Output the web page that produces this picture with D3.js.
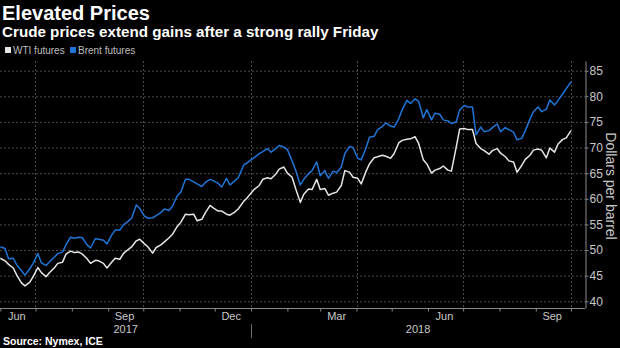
<!DOCTYPE html>
<html>
<head>
<meta charset="utf-8">
<script src="https://cdn.jsdelivr.net/npm/d3@7"></script>
<style>
  html, body { margin: 0; padding: 0; background: #000; }
  svg { display: block; font-family: "Liberation Sans", Arial, sans-serif; }
</style>
</head>
<body>
<div id="chart"></div>
<script>
// Trading days sampled twice a week (Mon / Thu)
var dates = [
	'2017-06-01','2017-06-05','2017-06-08','2017-06-12','2017-06-15','2017-06-19','2017-06-22','2017-06-26','2017-06-29',
	'2017-07-03','2017-07-06','2017-07-10','2017-07-13','2017-07-17','2017-07-20','2017-07-24','2017-07-27','2017-07-31',
	'2017-08-03','2017-08-07','2017-08-10','2017-08-14','2017-08-17','2017-08-21','2017-08-24','2017-08-28','2017-08-31',
	'2017-09-04','2017-09-07','2017-09-11','2017-09-14','2017-09-18','2017-09-21','2017-09-25','2017-09-28',
	'2017-10-02','2017-10-05','2017-10-09','2017-10-12','2017-10-16','2017-10-19','2017-10-23','2017-10-26','2017-10-30',
	'2017-11-02','2017-11-06','2017-11-09','2017-11-13','2017-11-16','2017-11-20','2017-11-23','2017-11-27','2017-11-30',
	'2017-12-04','2017-12-07','2017-12-11','2017-12-14','2017-12-18','2017-12-21','2017-12-26','2017-12-28',
	'2018-01-02','2018-01-04','2018-01-08','2018-01-11','2018-01-15','2018-01-18','2018-01-22','2018-01-25','2018-01-29',
	'2018-02-01','2018-02-05','2018-02-08','2018-02-12','2018-02-15','2018-02-19','2018-02-22','2018-02-26',
	'2018-03-01','2018-03-05','2018-03-08','2018-03-12','2018-03-15','2018-03-19','2018-03-22','2018-03-26','2018-03-29',
	'2018-04-02','2018-04-05','2018-04-09','2018-04-12','2018-04-16','2018-04-19','2018-04-23','2018-04-26','2018-04-30',
	'2018-05-03','2018-05-07','2018-05-10','2018-05-14','2018-05-17','2018-05-21','2018-05-24','2018-05-28','2018-05-31',
	'2018-06-04','2018-06-07','2018-06-11','2018-06-14','2018-06-18','2018-06-21','2018-06-25','2018-06-28',
	'2018-07-02','2018-07-05','2018-07-09','2018-07-12','2018-07-16','2018-07-19','2018-07-23','2018-07-26','2018-07-30',
	'2018-08-02','2018-08-06','2018-08-09','2018-08-13','2018-08-16','2018-08-20','2018-08-23','2018-08-27','2018-08-30',
	'2018-09-03','2018-09-06','2018-09-10','2018-09-13','2018-09-17','2018-09-20','2018-09-24','2018-09-27','2018-10-01'
];

var wti = [
	48.4, 47.9, 47.2, 46.5, 45.1, 43.6, 43.0, 43.7, 44.8,
	46.6, 45.6, 44.8, 45.6, 46.5, 47.4, 47.6, 49.2, 49.8,
	49.5, 49.6, 49.2, 48.3, 47.4, 48.0, 47.9, 47.4, 46.5,
	47.6, 48.4, 48.2, 49.3, 50.1, 50.6, 51.8, 52.1,
	51.2, 50.6, 49.4, 50.5, 51.0, 51.6, 52.4, 53.1, 54.6,
	55.4, 57.0, 56.9, 57.0, 55.7, 56.0, 57.3, 58.7, 58.2,
	57.6, 57.6, 57.0, 56.8, 57.4, 58.0, 59.6, 60.0,
	61.4, 61.9, 62.6, 63.8, 64.1, 63.9, 64.8, 65.8, 66.2,
	65.0, 64.2, 62.0, 59.3, 60.9, 61.9, 61.8, 63.8,
	61.8, 62.0, 60.7, 61.1, 61.3, 62.6, 65.5, 65.2, 64.2,
	64.0, 62.9, 65.3, 66.8, 68.0, 68.2, 68.5, 68.3, 67.9,
	68.8, 70.9, 71.4, 71.6, 71.7, 72.1, 70.8, 67.6, 66.8,
	65.0, 65.6, 65.9, 66.4, 65.6, 65.4, 70.0, 73.6,
	73.7, 73.5, 73.5, 70.8, 69.8, 69.4, 68.7, 69.4, 69.8,
	68.9, 68.2, 67.4, 67.2, 65.2, 66.5, 67.7, 68.5, 69.5,
	69.7, 69.5, 68.0, 69.9, 69.1, 70.7, 71.6, 71.9, 73.3
];

var brent = [
	50.65, 50.3, 48.3, 48.4, 47.1, 46.0, 45.1, 46.3, 47.4,
	49.3, 47.5, 47.0, 47.7, 48.6, 49.3, 49.6, 51.0, 52.5,
	52.3, 52.5, 52.4, 51.0, 50.4, 52.2, 52.1, 51.9, 51.2,
	52.9, 53.9, 53.9, 54.9, 55.6, 56.2, 58.8, 58.1,
	56.6, 56.2, 56.3, 56.7, 57.3, 58.0, 57.7, 58.6, 60.6,
	61.3, 63.8, 63.8, 63.3, 62.9, 62.4, 63.2, 63.8, 63.5,
	63.0, 62.3, 64.0, 62.7, 63.5, 64.1, 66.7, 66.9,
	67.8, 68.1, 68.8, 69.2, 69.8, 69.1, 69.8, 70.4, 70.1,
	69.6, 67.4, 65.6, 62.7, 63.8, 64.9, 65.5, 67.2,
	64.5, 65.5, 64.0, 65.4, 65.1, 66.2, 68.8, 70.2, 70.0,
	67.9, 67.6, 69.85, 72.0, 72.2, 73.5, 74.1, 74.8, 74.2,
	74.0, 75.6, 77.4, 79.2, 78.6, 79.5, 79.0, 75.8, 77.4,
	75.4, 76.7, 76.5, 75.4, 75.2, 74.7, 75.0, 77.3,
	78.2, 77.9, 77.9, 72.5, 74.0, 73.1, 73.3, 73.9, 74.6,
	73.1, 73.9, 73.5, 73.0, 71.5, 71.8, 73.3, 75.5, 77.0,
	77.9, 77.0, 77.5, 79.3, 78.3, 79.2, 80.5, 81.5, 82.8
];

var seriesNames  = ['WTI futures', 'Brent futures'];
var seriesColors = ['#e6e6e6', '#1f74d6'];

var yTicks      = [40, 45, 50, 55, 60, 65, 70, 75, 80, 85];
var monthLabels = ['Jun', 'Sep', 'Dec', 'Mar', 'Jun', 'Sep'];
var monthDates  = ['2017-06-15', '2017-09-15', '2017-12-15', '2018-03-15', '2018-06-15', '2018-09-15'];
var years       = ['2017', '2018'];

var width   = 620;
var height  = 348;
var plotTop = 61;
var plotBot = 308;
var axisX   = 585;

var parse = d3.timeParse('%Y-%m-%d');
var rows = dates.map(function(d, i) {
	return { date: parse(d), wti: wti[i], brent: brent[i] };
});

var xStart = parse('2017-06-01');
var xEnd   = parse('2018-10-13');

var x_scale = d3.scaleTime()
	.domain([xStart, xEnd])
	.range([0.35, axisX]);

var y_scale = d3.scaleLinear()
	.domain([38.69, 86.89])
	.range([plotBot, plotTop]);

var svg = d3.select('#chart')
	.append('svg')
	.attr('width', width)
	.attr('height', height);

svg.append('rect')
	.attr('width', width)
	.attr('height', height)
	.attr('fill', '#000');

// Titles
svg.append('text')
	.attr('x', 2).attr('y', 20)
	.attr('fill', '#fff')
	.attr('font-size', 20)
	.attr('font-weight', 'bold')
	.text('Elevated Prices');

svg.append('text')
	.attr('x', 2).attr('y', 37)
	.attr('fill', '#fff')
	.attr('font-size', 15.2)
	.attr('font-weight', 'bold')
	.text('Crude prices extend gains after a strong rally Friday');

// Legend
var legendX = [5, 70];
seriesNames.forEach(function(name, i) {
	svg.append('rect')
		.attr('x', legendX[i]).attr('y', 47)
		.attr('width', 6).attr('height', 6)
		.attr('fill', seriesColors[i]);
	svg.append('text')
		.attr('x', legendX[i] + 8).attr('y', 54)
		.attr('fill', '#bdbdbd')
		.attr('font-size', 10)
		.text(name);
});

// Horizontal grid
svg.append('g')
	.selectAll('line')
	.data(yTicks)
	.enter().append('line')
	.attr('x1', 0).attr('x2', axisX)
	.attr('y1', function(d) { return y_scale(d) + 0.5; })
	.attr('y2', function(d) { return y_scale(d) + 0.5; })
	.attr('stroke', '#4a4a4a')
	.attr('stroke-dasharray', '2,2');

// Vertical grid at quarter starts
var quarterStarts = d3.timeMonth.every(3).range(parse('2017-07-01'), parse('2018-10-02'));
svg.append('g')
	.selectAll('line')
	.data(quarterStarts)
	.enter().append('line')
	.attr('x1', function(d) { return Math.round(x_scale(d)) + 0.5; })
	.attr('x2', function(d) { return Math.round(x_scale(d)) + 0.5; })
	.attr('y1', plotTop).attr('y2', plotBot)
	.attr('stroke', '#4a4a4a')
	.attr('stroke-dasharray', '2,2');

// Bottom axis with monthly ticks
var x_axis = d3.axisBottom(x_scale)
	.tickValues(d3.timeMonth.range(xStart, parse('2018-10-02')))
	.tickFormat('')
	.tickSize(3)
	.tickSizeOuter(0);

var gx = svg.append('g')
	.attr('transform', 'translate(0,' + (plotBot + 0.5) + ')')
	.call(x_axis);
gx.select('.domain').attr('stroke', '#8a8a8a').attr('d', 'M0,0H' + axisX);
gx.selectAll('.tick line').attr('stroke', '#8a8a8a');

svg.append('g')
	.selectAll('text')
	.data(monthLabels)
	.enter().append('text')
	.attr('x', function(d, i) { return x_scale(parse(monthDates[i])); })
	.attr('y', 320)
	.attr('text-anchor', 'middle')
	.attr('fill', '#c8c8c8')
	.attr('font-size', 11)
	.text(function(d) { return d; });

// Year labels centred on each year's visible span
var yearBreak = parse('2018-01-01');
var yearMid = [
	(x_scale(xStart) + x_scale(yearBreak)) / 2,
	(x_scale(yearBreak) + axisX) / 2
];
svg.append('g')
	.selectAll('text')
	.data(years)
	.enter().append('text')
	.attr('x', function(d, i) { return yearMid[i]; })
	.attr('y', 333)
	.attr('text-anchor', 'middle')
	.attr('fill', '#c8c8c8')
	.attr('font-size', 11)
	.text(function(d) { return d; });

svg.append('line')
	.attr('x1', Math.round(x_scale(yearBreak)) + 0.5)
	.attr('x2', Math.round(x_scale(yearBreak)) + 0.5)
	.attr('y1', 324).attr('y2', 338)
	.attr('stroke', '#6a6a6a');

// Right value axis
var y_axis = d3.axisRight(y_scale)
	.tickValues(yTicks)
	.tickSize(3)
	.tickSizeOuter(0);

var gy = svg.append('g')
	.attr('transform', 'translate(' + (axisX + 0.5) + ',0)')
	.call(y_axis);
gy.select('.domain').attr('stroke', '#8a8a8a');
gy.selectAll('.tick line').attr('stroke', '#8a8a8a');
gy.selectAll('.tick text')
	.attr('fill', '#c8c8c8')
	.attr('font-size', 12)
	.attr('font-family', '"Liberation Sans", Arial, sans-serif')
	.attr('x', 4);

svg.append('text')
	.attr('transform', 'translate(606,186) rotate(90)')
	.attr('text-anchor', 'middle')
	.attr('fill', '#c8c8c8')
	.attr('font-size', 14)
	.text('Dollars per barrel');

// Price lines
['wti', 'brent'].forEach(function(key, i) {
	var line = d3.line()
		.x(function(d) { return x_scale(d.date); })
		.y(function(d) { return y_scale(d[key]); });

	svg.append('path')
		.datum(rows)
		.attr('fill', 'none')
		.attr('stroke', seriesColors[i])
		.attr('stroke-width', 1.5)
		.attr('stroke-linejoin', 'round')
		.attr('d', line);
});

// Source note
svg.append('text')
	.attr('x', 3).attr('y', 345)
	.attr('fill', '#fff')
	.attr('font-size', 10.5)
	.attr('font-weight', 'bold')
	.text('Source: Nymex, ICE');
</script>
</body>
</html>
